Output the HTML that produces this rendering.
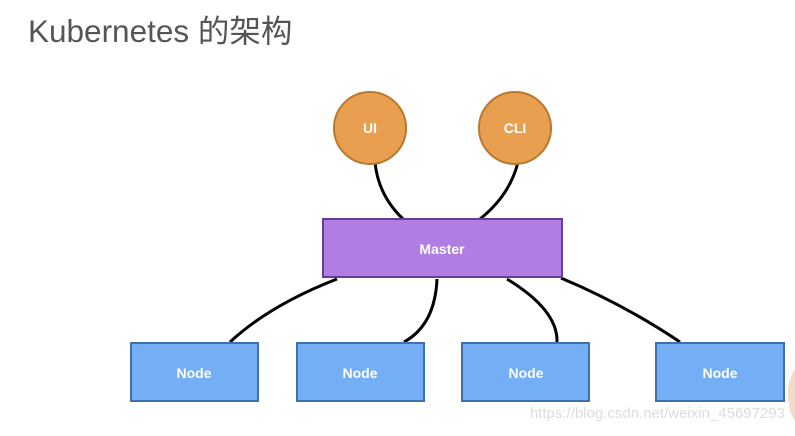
<!DOCTYPE html><html><head><style>body{margin:0;width:795px;height:431px;background:#fff;overflow:hidden;font-family:"Liberation Sans","Noto Sans CJK SC",sans-serif}</style></head><body>
<svg width="795" height="431" xmlns="http://www.w3.org/2000/svg">
<text x="28" y="42" font-size="31.5" fill="#555" font-family="Liberation Sans, Noto Sans CJK SC, sans-serif">Kubernetes 的架构</text>
<g fill="none" stroke="#000" stroke-width="3">
<path d="M375 162 Q378 195 403 219"/>
<path d="M518 162 Q510 195 480 219"/>
<path d="M337 279 Q270 305 230 342"/>
<path d="M437 279 Q435 325 404 342"/>
<path d="M507 279 Q558 310 557 342"/>
<path d="M561 278 Q625 305 680 342"/>
</g>
<circle cx="370" cy="128" r="36" fill="#e8a050" stroke="#b87830" stroke-width="2"/>
<circle cx="515" cy="128" r="36" fill="#e8a050" stroke="#b87830" stroke-width="2"/>
<rect x="323" y="219" width="239" height="58" fill="#b07ee2" stroke="#6a3d95" stroke-width="2"/>
<g fill="#74aef4" stroke="#3e6fae" stroke-width="2">
<rect x="131" y="343" width="127" height="58"/>
<rect x="297" y="343" width="127" height="58"/>
<rect x="462" y="343" width="127" height="58"/>
<rect x="656" y="343" width="128" height="58"/>
</g>
<g fill="#fff" font-weight="bold" font-size="14" text-anchor="middle" font-family="Liberation Sans, sans-serif">
<text x="370" y="133">UI</text><text x="515" y="133">CLI</text>
<text x="442" y="254">Master</text>
<text x="194" y="378">Node</text><text x="360" y="378">Node</text><text x="526" y="378">Node</text><text x="720" y="378">Node</text>
</g>
<text x="785" y="418" text-anchor="end" font-size="15" fill="#ddd">https://blog.csdn.net/weixin_45697293</text>
<ellipse cx="800" cy="395" rx="12" ry="28" fill="#f3d8cc"/>
</svg></body></html>
